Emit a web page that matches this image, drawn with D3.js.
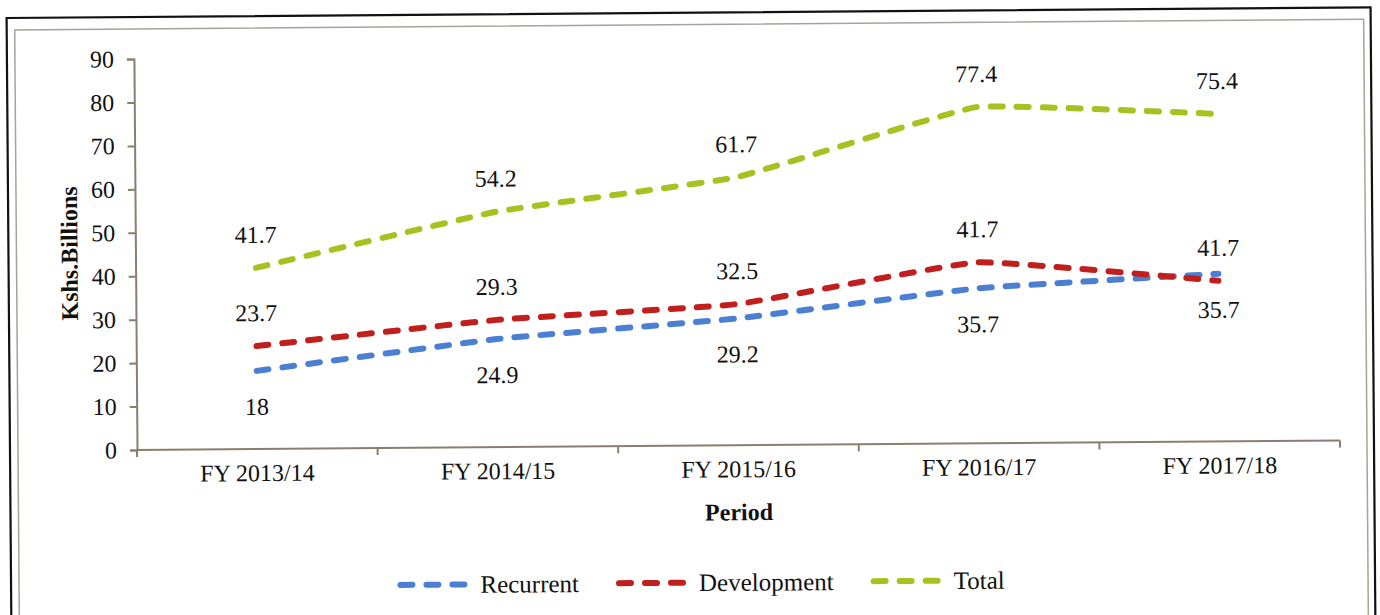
<!DOCTYPE html>
<html>
<head>
<meta charset="utf-8">
<script src="https://cdn.jsdelivr.net/npm/d3@7"></script>
<style>
  body { margin: 0; background: #fff; }
  svg { display: block; font-family: "Liberation Serif", "Times New Roman", serif; }
</style>
</head>
<body>
<div id="chart"></div>
<script>
var periods = ['FY 2013/14', 'FY 2014/15', 'FY 2015/16', 'FY 2016/17', 'FY 2017/18'];
var recurrent = [18, 24.9, 29.2, 35.7, 38.6];
var development = [23.7, 29.3, 32.5, 41.7, 37.0];
var total = [41.7, 54.2, 61.7, 77.4, 75.4];
// data labels as printed on the chart
var recurrentLabels = ['18', '24.9', '29.2', '35.7', '35.7'];
var developmentLabels = ['23.7', '29.3', '32.5', '41.7', '41.7'];
var totalLabels = ['41.7', '54.2', '61.7', '77.4', '75.4'];
var yTicks = [0, 10, 20, 30, 40, 50, 60, 70, 80, 90];

var series = [
  {name: 'Recurrent', values: recurrent, labels: recurrentLabels, color: '#4a7fd2', pos: 'below'},
  {name: 'Development', values: development, labels: developmentLabels, color: '#c11f1d', pos: 'above'},
  {name: 'Total', values: total, labels: totalLabels, color: '#a6c220', pos: 'above'}
];

var W = 1380, H = 615;
var plotLeft = 137, plotRight = 1340, plotTop = 59, plotBottom = 450;
var axisColor = '#8a7f6e';

var svg = d3.select('#chart').append('svg')
            .attr('width', W)
            .attr('height', H);

// the scanned page is slightly tilted
var g = svg.append('g').attr('transform', 'rotate(-0.45,' + plotLeft + ',' + plotBottom + ')');

g.append('rect')
 .attr('x', 10).attr('y', 17).attr('width', 1364).attr('height', 660)
 .attr('fill', 'none').attr('stroke', '#111').attr('stroke-width', 2.2);
g.append('rect')
 .attr('x', 18).attr('y', 29).attr('width', 1349).attr('height', 660)
 .attr('fill', 'none').attr('stroke', '#a8a39a').attr('stroke-width', 1.5);

var x = d3.scaleBand().domain(periods).range([plotLeft, plotRight]);
var y = d3.scaleLinear().domain([0, 90]).range([plotBottom, plotTop]);

// y axis
var yAxis = d3.axisLeft(y).tickValues(yTicks).tickSize(7).tickPadding(13);
var ya = g.append('g').attr('transform', 'translate(' + plotLeft + ',0)').call(yAxis);
ya.select('.domain').attr('stroke', axisColor).attr('stroke-width', 2);
ya.selectAll('.tick line').attr('stroke', axisColor).attr('stroke-width', 2);
ya.selectAll('.tick text').attr('fill', '#111').style('font-size', '24px')
  .style('font-family', '"Liberation Serif", serif');

// x axis: ticks sit on the category boundaries
g.append('line')
 .attr('x1', plotLeft).attr('x2', plotRight).attr('y1', plotBottom).attr('y2', plotBottom)
 .attr('stroke', axisColor).attr('stroke-width', 2);
var bounds = periods.map(function(p) { return x(p); }).concat([x.range()[1]]);
g.selectAll('.xtick').data(bounds).enter().append('line')
 .attr('class', 'xtick')
 .attr('x1', function(d) { return d; }).attr('x2', function(d) { return d; })
 .attr('y1', plotBottom).attr('y2', plotBottom + 7)
 .attr('stroke', axisColor).attr('stroke-width', 2);
g.selectAll('.xlabel').data(periods).enter().append('text')
 .attr('class', 'xlabel')
 .attr('x', function(d) { return x(d) + x.bandwidth() / 2; })
 .attr('y', plotBottom + 24)
 .attr('text-anchor', 'middle').attr('dominant-baseline', 'central')
 .style('font-size', '24px').attr('fill', '#111')
 .text(function(d) { return d; });

// axis titles
g.append('text')
 .attr('transform', 'translate(71,253) rotate(-90)')
 .attr('text-anchor', 'middle').attr('dominant-baseline', 'central')
 .style('font-size', '24px').style('font-weight', 'bold').attr('fill', '#111')
 .text('Kshs.Billions');
g.append('text')
 .attr('x', (plotLeft + plotRight) / 2).attr('y', 517)
 .attr('text-anchor', 'middle').attr('dominant-baseline', 'central')
 .style('font-size', '24px').style('font-weight', 'bold').attr('fill', '#111')
 .text('Period');

// lines, lightly smoothed like the original
var line = d3.line()
             .x(function(d, i) { return x(periods[i]) + x.bandwidth() / 2; })
             .y(function(d) { return y(d); })
             .curve(d3.curveCardinal.tension(0.7));

series.forEach(function(s) {
  g.append('path')
   .datum(s.values)
   .attr('fill', 'none')
   .attr('stroke', s.color)
   .attr('stroke-width', 6)
   .attr('stroke-linecap', 'round')
   .attr('stroke-dasharray', '12,14')
   .attr('d', line);
});

// data labels
series.forEach(function(s) {
  g.selectAll('.lbl-' + s.name).data(s.values).enter().append('text')
   .attr('class', 'lbl-' + s.name)
   .attr('x', function(d, i) { return x(periods[i]) + x.bandwidth() / 2; })
   .attr('y', function(d) { return s.pos == 'above' ? y(d) - 33 : y(d) + 36; })
   .attr('text-anchor', 'middle').attr('dominant-baseline', 'central')
   .style('font-size', '24px').attr('fill', '#111')
   .text(function(d, i) { return s.labels[i]; });
});

// legend
var legend = g.append('g');
var lx = 0;
series.forEach(function(s) {
  var it = legend.append('g');
  it.append('line')
    .attr('x1', 3).attr('x2', 69).attr('y1', 0).attr('y2', 0)
    .attr('stroke', s.color).attr('stroke-width', 6)
    .attr('stroke-linecap', 'round').attr('stroke-dasharray', '12,14');
  var t = it.append('text')
    .attr('x', 83).attr('y', 0).attr('dominant-baseline', 'central')
    .style('font-size', '25px').attr('fill', '#111')
    .text(s.name);
  var wdt = 83 + t.node().getComputedTextLength();
  it.attr('transform', 'translate(' + lx + ',0)');
  lx += wdt + 37;
});
var legendWidth = lx - 37;
legend.attr('transform', 'translate(' + (700 - legendWidth / 2) + ',587)');
</script>
</body>
</html>
